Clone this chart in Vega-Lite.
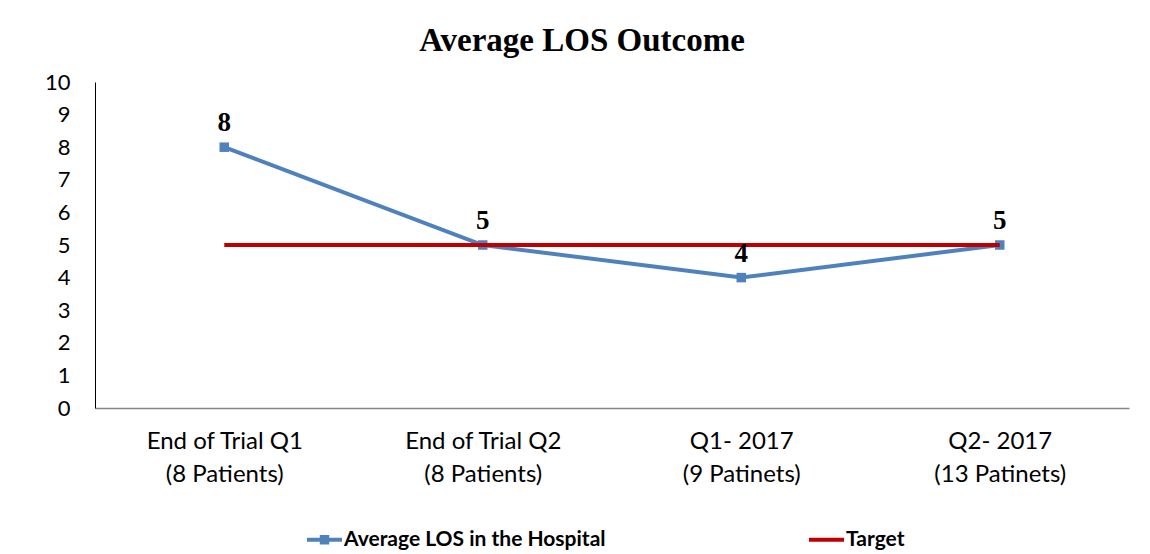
{
  "$schema": "https://vega.github.io/schema/vega-lite/v6.json",
  "width": 1034,
  "height": 326,
  "autosize": {"type": "none"},
  "padding": {"left": 95, "top": 82, "right": 21, "bottom": 146},
  "background": "white",
  "title": {"text": "Average LOS Outcome", "font": "Liberation Serif", "fontSize": 33, "fontWeight": "bold", "color": "#000000", "anchor": "middle", "frame": "group", "dx": -30, "offset": 13},
  "config": {"view": {"stroke": null}},
  "data": {"values": [
    {"category": "End of Trial Q1|(8 Patients)", "series": "Average LOS in the Hospital", "value": 8},
    {"category": "End of Trial Q2|(8 Patients)", "series": "Average LOS in the Hospital", "value": 5},
    {"category": "Q1- 2017|(9 Patinets)", "series": "Average LOS in the Hospital", "value": 4},
    {"category": "Q2- 2017|(13 Patinets)", "series": "Average LOS in the Hospital", "value": 5},
    {"category": "End of Trial Q1|(8 Patients)", "series": "Target", "value": 5},
    {"category": "End of Trial Q2|(8 Patients)", "series": "Target", "value": 5},
    {"category": "Q1- 2017|(9 Patinets)", "series": "Target", "value": 5},
    {"category": "Q2- 2017|(13 Patinets)", "series": "Target", "value": 5}
  ]},
  "encoding": {
    "x": {"field": "category", "type": "nominal", "sort": null, "scale": {"type": "point", "padding": 0.5},
      "axis": {"title": null, "labelAngle": 0, "labelExpr": "split(datum.label, '|')", "labelFont": "Lato", "labelFontSize": 24, "labelColor": "#000000", "labelLineHeight": 33, "labelPadding": 21, "ticks": false, "domainColor": "#868686", "domainWidth": 1.5, "grid": false, "labelLimit": 300}},
    "y": {"field": "value", "type": "quantitative", "scale": {"domain": [0, 10], "nice": false},
      "axis": {"title": null, "values": [0,1,2,3,4,5,6,7,8,9,10], "labelFont": "Lato", "labelFontSize": 22, "labelColor": "#000000", "labelPadding": 25, "ticks": false, "domainColor": "#000000", "domainWidth": 1, "grid": false}}
  },
  "layer": [
    {"transform": [{"filter": "datum.series === 'Average LOS in the Hospital'"}],
     "mark": {"type": "line", "color": "#4F81BD", "strokeWidth": 4}},
    {"transform": [{"filter": "datum.series === 'Average LOS in the Hospital'"}],
     "mark": {"type": "point", "shape": "square", "filled": true, "color": "#4F81BD", "size": 90, "opacity": 1}},
    {"transform": [{"filter": "datum.series === 'Target'"}],
     "mark": {"type": "line", "color": "#C00000", "strokeWidth": 4}},
    {"transform": [{"filter": "datum.series === 'Average LOS in the Hospital'"}],
     "mark": {"type": "text", "font": "Liberation Serif", "fontSize": 27, "fontWeight": "bold", "color": "#000000", "dy": -24, "baseline": "middle"},
     "encoding": {"text": {"field": "value", "type": "quantitative"}}},
    {"mark": {"type": "point", "filled": true, "opacity": 0, "strokeWidth": 0},
     "encoding": {
       "color": {"field": "series", "type": "nominal", "scale": {"domain": ["Average LOS in the Hospital", "Target"], "range": ["#4F81BD", "#C00000"]},
         "legend": {"title": null, "orient": "none", "direction": "horizontal", "legendX": 212, "legendY": 440, "symbolSize": 1225, "symbolOpacity": 1, "symbolStrokeWidth": 0, "labelFont": "Lato", "labelFontSize": 21, "labelFontWeight": "bold", "labelColor": "#000000", "labelOffset": 2, "columnPadding": 203, "labelLimit": 400}},
       "shape": {"field": "series", "type": "nominal", "scale": {"domain": ["Average LOS in the Hospital", "Target"], "range": ["M-1,-0.115H1V0.115H-1Z M-0.27,-0.27H0.27V0.27H-0.27Z", "M-1,-0.115H1V0.115H-1Z"]},
         "legend": {"title": null, "orient": "none", "direction": "horizontal", "legendX": 212, "legendY": 440, "symbolSize": 1225, "symbolOpacity": 1, "symbolStrokeWidth": 0, "labelFont": "Lato", "labelFontSize": 21, "labelFontWeight": "bold", "labelColor": "#000000", "labelOffset": 2, "columnPadding": 203, "labelLimit": 400}}
     }}
  ]
}
